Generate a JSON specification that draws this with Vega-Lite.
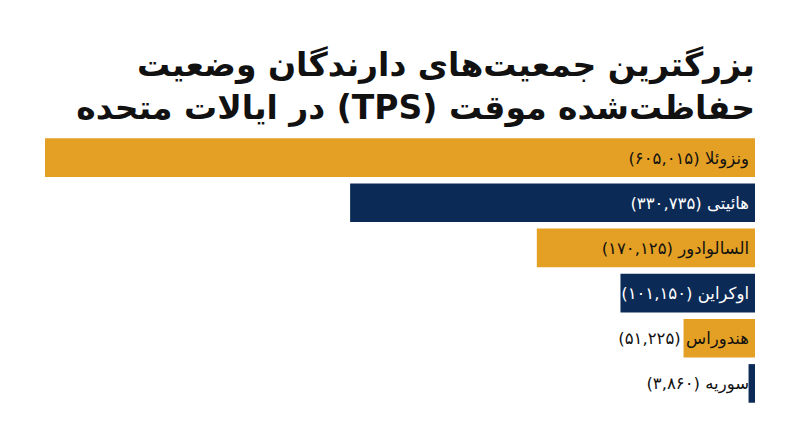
{
  "$schema": "https://vega.github.io/schema/vega-lite/v6.json",
  "autosize": {"type": "none"},
  "width": 710,
  "height": 271,
  "padding": {"left": 45, "top": 135, "right": 45, "bottom": 41},
  "background": "white",
  "config": {"view": {"stroke": null}},
  "title": {
    "text": [
      "\u202bبزرگترین جمعیت\u200cهای دارندگان وضعیت\u202c",
      "\u202bحفاظت\u200cشده موقت (TPS) در ایالات متحده\u202c"
    ],
    "anchor": "end",
    "frame": "group",
    "font": "DejaVu Sans",
    "fontSize": 33,
    "fontWeight": "bold",
    "color": "#111111",
    "lineHeight": 43,
    "offset": 9
  },
  "data": {
    "values": [
      {"country": "ونزوئلا", "holders": 605015, "label": "\u202bونزوئلا (۶۰۵,۰۱۵)\u202c"},
      {"country": "هائیتی", "holders": 330735, "label": "\u202bهائیتی (۳۳۰,۷۳۵)\u202c"},
      {"country": "السالوادور", "holders": 170125, "label": "\u202bالسالوادور (۱۷۰,۱۲۵)\u202c"},
      {"country": "اوکراین", "holders": 101150, "label": "\u202bاوکراین (۱۰۱,۱۵۰)\u202c"},
      {"country": "هندوراس", "holders": 51225, "label": "\u202bهندوراس (۵۱,۲۲۵)\u202c"},
      {"country": "سوریه", "holders": 3860, "label": "\u202bسوریه (۳,۸۶۰)\u202c"}
    ]
  },
  "encoding": {
    "y": {
      "field": "country",
      "type": "nominal",
      "sort": {"field": "holders", "order": "descending"},
      "scale": {"paddingInner": 0.145, "paddingOuter": 0.0725},
      "axis": null
    }
  },
  "layer": [
    {
      "mark": {"type": "bar"},
      "encoding": {
        "x": {
          "field": "holders",
          "type": "quantitative",
          "scale": {"type": "pow", "exponent": 0.93, "domain": [0, 605015], "reverse": true, "nice": false},
          "axis": null
        },
        "color": {
          "field": "country",
          "type": "nominal",
          "scale": {
            "domain": ["ونزوئلا", "هائیتی", "السالوادور", "اوکراین", "هندوراس", "سوریه"],
            "range": ["#E3A024", "#0C2A56", "#E3A024", "#0C2A56", "#E3A024", "#0C2A56"]
          },
          "legend": null
        }
      }
    },
    {
      "mark": {"type": "text", "align": "right", "baseline": "middle", "dx": -6, "dy": 1, "font": "DejaVu Sans", "fontSize": 16.5},
      "encoding": {
        "x": {"datum": 0, "type": "quantitative"},
        "text": {"field": "label"},
        "color": {
          "condition": {"test": "datum.country == 'هائیتی' || datum.country == 'اوکراین'", "value": "white"},
          "value": "#111111"
        }
      }
    }
  ]
}
